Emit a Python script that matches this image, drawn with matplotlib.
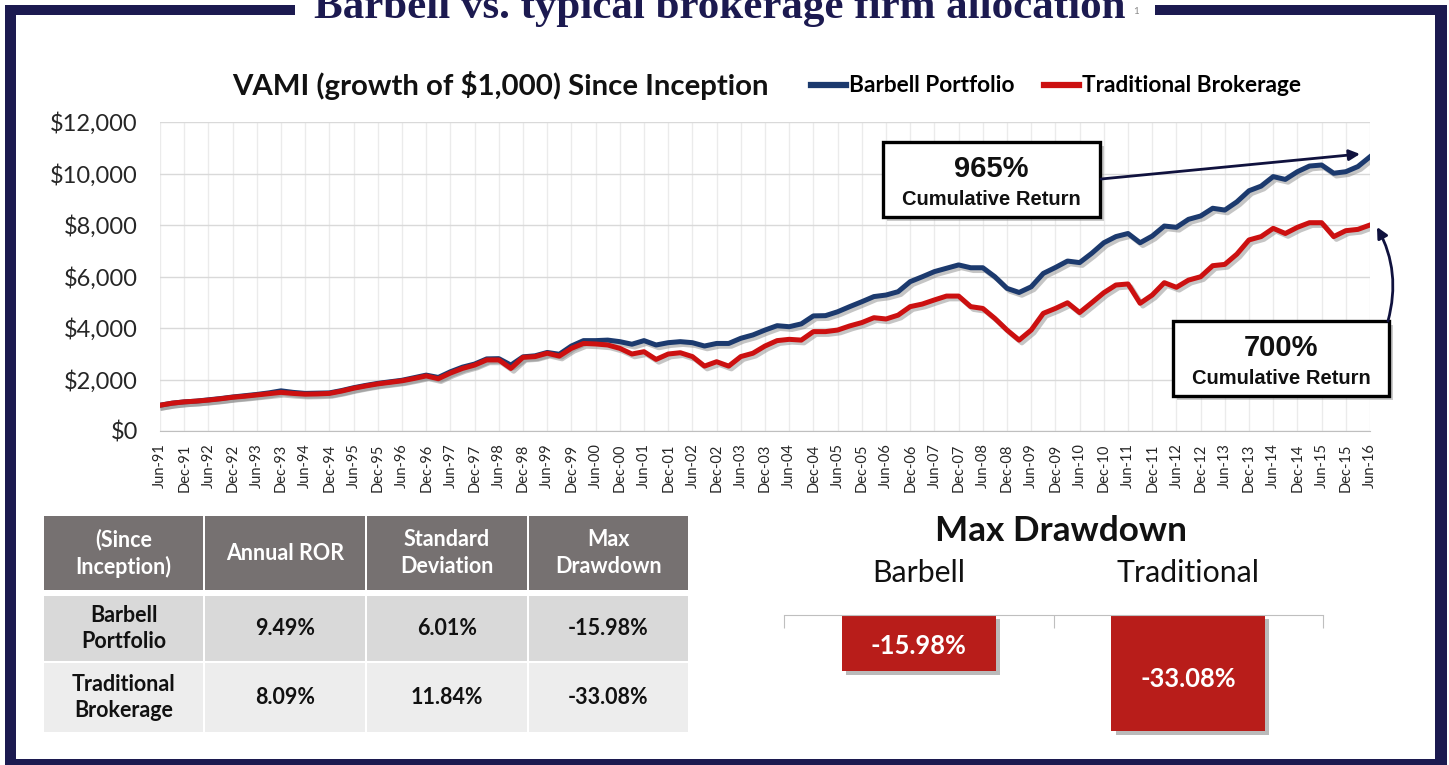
import numpy as np
import matplotlib.pyplot as plt
import matplotlib.patheffects as pe
from matplotlib.patches import Rectangle

plt.rcParams['font.family'] = ['Lato', 'DejaVu Sans']

W, H = 1449, 765
NAVY = '#1c1a50'
BLUE = '#1c3a6e'
RED = '#cc1010'
BAR_RED = '#b81d1a'

# quarterly VAMI, Jun-91 .. Jun-16
barbell = [1000, 1080, 1130, 1160, 1210, 1260, 1320, 1370, 1420, 1480,
           1560, 1500, 1460, 1470, 1480, 1570, 1680, 1770, 1850, 1910,
           1970, 2070, 2170, 2080, 2300, 2480, 2600, 2800, 2810, 2560,
           2880, 2920, 3050, 2980, 3300, 3510, 3510, 3530, 3470, 3370,
           3510, 3340, 3430, 3470, 3430, 3300, 3400, 3400, 3600, 3730,
           3920, 4090, 4050, 4160, 4470, 4480, 4630, 4830, 5020, 5220,
           5280, 5410, 5800, 5990, 6190, 6320, 6450, 6340, 6340, 5990,
           5540, 5380, 5600, 6120, 6350, 6600, 6540, 6900, 7310, 7550,
           7670, 7310, 7570, 7960, 7910, 8220, 8350, 8650, 8580, 8900,
           9330, 9510, 9880, 9770, 10070, 10290, 10330, 10010, 10070, 10270,
           10650]
traditional = [1000, 1080, 1130, 1160, 1200, 1250, 1310, 1350, 1400, 1450,
               1500, 1460, 1430, 1440, 1460, 1550, 1660, 1750, 1830, 1890,
               1950, 2040, 2140, 2030, 2250, 2430, 2560, 2760, 2760, 2430,
               2860, 2890, 3020, 2910, 3210, 3400, 3380, 3340, 3210, 2990,
               3080, 2780, 2990, 3040, 2890, 2520, 2690, 2520, 2890, 3020,
               3300, 3510, 3560, 3530, 3860, 3860, 3920, 4080, 4210, 4400,
               4350, 4500, 4830, 4930, 5090, 5240, 5240, 4830, 4760, 4370,
               3920, 3530, 3920, 4570, 4760, 4980, 4600, 4980, 5370, 5670,
               5710, 4960, 5280, 5760, 5580, 5860, 5990, 6420, 6470, 6870,
               7420, 7550, 7870, 7670, 7910, 8090, 8090, 7550, 7780, 7830,
               8000]
years = list(range(91, 100)) + list(range(0, 17))
tick_labels = []
for yy in years:
    tick_labels += [f"Jun-{yy:02d}", f"Dec-{yy:02d}"]
tick_labels = tick_labels[:-1]

cum_returns = ["965%", "700%"]

table_header = ["(Since\nInception)", "Annual ROR", "Standard\nDeviation", "Max\nDrawdown"]
table_rows = [["Barbell\nPortfolio", "9.49%", "6.01%", "-15.98%"],
              ["Traditional\nBrokerage", "8.09%", "11.84%", "-33.08%"]]

dd_names = ["Barbell", "Traditional"]
dd_values = [-15.98, -33.08]


def px(x0, y0, x1, y1):
    return [x0 / W, 1 - y1 / H, (x1 - x0) / W, (y1 - y0) / H]


fig = plt.figure(figsize=(W / 100, H / 100), dpi=100)

# ---- line chart
ax = fig.add_axes(px(160, 122, 1370, 431))
x = np.arange(len(barbell))
shadow = [pe.SimpleLineShadow(offset=(2, -2), shadow_color='#7f7f7f', alpha=0.45), pe.Normal()]
l1, = ax.plot(x, barbell, color=BLUE, lw=3.6, solid_joinstyle='round', path_effects=shadow, zorder=3)
l2, = ax.plot(x, traditional, color=RED, lw=3.6, solid_joinstyle='round', path_effects=shadow, zorder=4)
ax.set_xlim(0, 100)
ax.set_ylim(0, 12000)
ax.set_yticks(range(0, 12001, 2000))
ax.yaxis.set_major_formatter(plt.FuncFormatter(lambda v, p: f"${v:,.0f}"))
ax.set_xticks(range(0, 101, 2))
ax.set_xticklabels(tick_labels, rotation=90)
ax.tick_params(axis='y', length=0, pad=16, labelsize=17, labelcolor='#262626')
ax.tick_params(axis='x', length=0, pad=9, labelsize=10.5, labelcolor='#262626')
ax.grid(axis='y', color='#d9d9d9', lw=1)
ax.grid(axis='x', color='#ebebeb', lw=1)
for s in ['top', 'right', 'left']:
    ax.spines[s].set_visible(False)
ax.spines['bottom'].set_color('#bfbfbf')
ax.set_axisbelow(True)

fig.text(232 / W, 1 - 86 / H, "VAMI (growth of $1,000) Since Inception",
         fontsize=21.2, fontweight='bold', va='center', ha='left', color='#111111')
leg = fig.legend([l1, l2], ["Barbell Portfolio", "Traditional Brokerage"], ncol=2,
                 loc='center left', bbox_to_anchor=(811 / W, 1 - 86 / H), frameon=False,
                 prop={'weight': 'bold', 'size': 16.3}, handlelength=1.55, handletextpad=0.12,
                 columnspacing=1.3, borderpad=0, borderaxespad=0)
for h in leg.legend_handles:
    h.set_linewidth(4.5)
    h.set_path_effects([])

# ---- drawdown bars
bx = fig.add_axes(px(784, 615, 1323, 745))
bx.bar(range(len(dd_values)), dd_values, width=0.57, color=BAR_RED,
       path_effects=[pe.SimplePatchShadow(offset=(3, -3), shadow_rgbFace='#777777', alpha=0.5), pe.Normal()])
for i, v in enumerate(dd_values):
    bx.text(i, v * 0.55, f"{v:.2f}%", color='white', fontsize=18.4, fontweight='bold',
            ha='center', va='center')
bx.set_xlim(-0.5, 1.5)
bx.set_ylim(-37, 0)
bx.set_yticks([])
for s in ['bottom', 'left', 'right']:
    bx.spines[s].set_visible(False)
bx.spines['top'].set_color('#bfbfbf')
bx.xaxis.tick_top()
bx.set_xticks([-0.5, 0.5, 1.5])
bx.set_xticklabels([])
bx.set_xticks(range(len(dd_names)), minor=True)
bx.set_xticklabels(dd_names, minor=True)
bx.tick_params(axis='x', which='major', direction='in', length=9, color='#bfbfbf')
bx.tick_params(axis='x', which='minor', length=0, pad=20, labelsize=21.8, labelcolor='#111111')
bx.patch.set_alpha(0)
fig.text(1061 / W, 1 - 531 / H, "Max Drawdown", fontsize=25.3, fontweight='bold',
         ha='center', va='center', color='#111111')

# ---- overlay in pixel coordinates
ov = fig.add_axes([0, 0, 1, 1])
ov.set_xlim(0, W)
ov.set_ylim(H, 0)
ov.axis('off')
ov.patch.set_alpha(0)
ov.set_zorder(10)

# frame
for (x0, y0, x1, y1) in [(5, 5, 295, 15), (1155, 5, 1447, 15), (5, 5, 16, 765),
                         (1435, 5, 1447, 765), (5, 759, 1447, 765)]:
    ov.add_patch(Rectangle((x0, y0), x1 - x0, y1 - y0, color=NAVY, lw=0))
ov.text(314, 18, "Barbell vs. typical brokerage firm allocation", family='Liberation Serif',
        fontweight='bold', fontsize=31, color=NAVY, ha='left', va='baseline')
ov.text(1133, 14, "1", fontsize=7, color='#888888', ha='left', va='baseline')

# callout boxes
boxes = [(883, 142, 1100, 217), (1173, 321, 1389, 396)]
for (x0, y0, x1, y1), label in zip(boxes, cum_returns):
    ov.add_patch(Rectangle((x0 + 4, y0 + 4), x1 - x0, y1 - y0, color='#999999', alpha=0.5, lw=0))
    ov.add_patch(Rectangle((x0, y0), x1 - x0, y1 - y0, fc='white', ec='black', lw=2.4))
    cx = (x0 + x1) / 2
    ov.text(cx, y0 + 27, label, family='Liberation Sans', fontweight='bold', fontsize=21,
            ha='center', va='center', color='#111111')
    ov.text(cx, y0 + 57, "Cumulative Return", family='Liberation Sans', fontweight='bold',
            fontsize=14.5, ha='center', va='center', color='#111111')

arrow = dict(arrowstyle='-|>', color='#10123e', lw=2, mutation_scale=16, shrinkA=0, shrinkB=0)
ov.annotate('', xy=(1360, 154), xytext=(1101, 179), arrowprops=arrow)
ov.annotate('', xy=(1377, 227), xytext=(1388, 321),
            arrowprops=dict(arrow, connectionstyle='arc3,rad=0.2'))

# stats table
col_edges = [(44, 203), (205, 365), (367, 527), (529, 688)]
row_edges = [(516, 590), (596, 661), (663, 732)]
row_fill = ['#767171', '#d9d9d9', '#ededed']
cells = [table_header] + table_rows
for r, (y0, y1) in enumerate(row_edges):
    for c, (x0, x1) in enumerate(col_edges):
        ov.add_patch(Rectangle((x0, y0), x1 - x0, y1 - y0, color=row_fill[r], lw=0))
        ov.text((x0 + x1) / 2, (y0 + y1) / 2, cells[r][c], fontsize=15.5, fontweight='bold',
                ha='center', va='center', linespacing=1.3,
                color='white' if r == 0 else '#111111')

fig.savefig('out.png', dpi=100)
